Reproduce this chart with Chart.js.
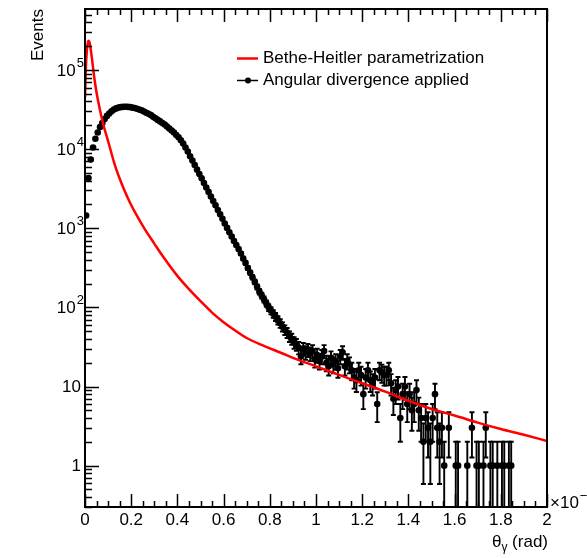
<!DOCTYPE html>
<html>
<head>
<meta charset="utf-8">
<script src="https://cdn.jsdelivr.net/npm/chart.js@4.4.1/dist/chart.umd.min.js"></script>
<style>
  html, body { margin: 0; padding: 0; background: #fff; }
  canvas { display: block; }
</style>
</head>
<body>
<canvas id="plot" width="587" height="558"></canvas>
<script>
// histogram: theta_gamma bins of 0.01 (x 10^-3 rad), first bin starts at 0
const binWidth = 0.01;
const binStart = 0;
const counts = [
  1450, 4300, 7400, 10500, 13500, 16200, 19000, 21400, 24000, 26300,
  28200, 30000, 31600, 32700, 33500, 33900, 34200, 34300, 34200, 33900,
  33500, 33100, 32400, 31600, 30900, 29900, 28800, 27900, 26900, 25700,
  24500, 23400, 22400, 21400, 20400, 19300, 18200, 17200, 16200, 15100,
  14100, 12900, 11750, 10500, 9330, 8130, 7160, 6310, 5500, 4840,
  4270, 3720, 3270, 2880, 2510, 2210, 1950, 1700, 1500, 1320,
  1150, 1010, 890, 785, 690, 615, 545, 480, 415, 365,
  315, 275, 240, 210, 182, 158, 141, 126, 112, 100,
  91, 83, 76, 69, 63, 57, 52, 48, 43, 40,
  36, 34, 31, 24, 30, 27, 29, 26, 28, 22,
  25, 21, 24, 28, 20, 18, 23, 19, 21, 17,
  24, 27, 18, 21, 19, 16, 13, 12, 16, 14,
  8, 13, 16, 12, 11, 13, 6, 16, 15, 14,
  14, 16, 11, 7, 9, 10, 4, 8, 10, 6,
  8, 5, 6, 9, 5, 4, 2, 4, 3, 2,
  4, 8, 3, 2, 3, 1, null, 3, null, null,
  1, 1, null, null, null, 1, null, 3, null, 1,
  1, null, 1, 3, null, 1, 1, null, 1, null,
  1, 1, null, 1, 1
];

// Bethe-Heitler parametrization (red curve)
const bhTheta = [0, 0.004, 0.008, 0.012, 0.016, 0.02, 0.025, 0.03, 0.036, 0.043,
  0.05, 0.058, 0.065, 0.075, 0.085, 0.094, 0.105, 0.121, 0.135, 0.152,
  0.17, 0.195, 0.224, 0.26, 0.3, 0.34, 0.4, 0.45, 0.5, 0.55,
  0.6, 0.65, 0.7, 0.77, 0.85, 0.9, 1.0, 1.1, 1.2, 1.3,
  1.4, 1.5, 1.6, 1.7, 1.8, 1.9, 2.0];
const bhValue = [45000, 110000, 175000, 220000, 235000, 222000, 180000, 140000, 100000, 70000,
  52000, 39000, 31000, 23000, 17800, 14500, 11200, 7600, 5600, 4100,
  3050, 2100, 1450, 960, 640, 430, 250, 170, 120, 86,
  65, 51, 41, 33, 26.5, 23, 18, 14, 11, 8.6,
  6.6, 5.2, 4.3, 3.5, 2.9, 2.45, 2.05];

const xTickLabels = ['0', '0.2', '0.4', '0.6', '0.8', '1', '1.2', '1.4', '1.6', '1.8', '2'];
const yDecades = [0, 1, 2, 3, 4, 5];

const legendLabels = ['Bethe-Heitler parametrization', 'Angular divergence applied'];
const FONT = "'Liberation Sans', Arial, Helvetica, sans-serif";

let histPoints = [];
counts.forEach((n, i) => {
  if (n != null) histPoints.push({ x: binStart + (i + 0.5) * binWidth, y: n });
});
let bhPoints = bhTheta.map((t, i) => ({ x: t, y: bhValue[i] }));

// error bars, frame, ROOT-like ticks and labels
const rootAxes = {
  id: 'rootAxes',
  beforeDatasetsDraw(chart) {
    const ctx = chart.ctx;
    const area = chart.chartArea;
    const xs = chart.scales.x, ys = chart.scales.y;
    ctx.save();
    ctx.beginPath();
    ctx.rect(area.left, area.top, area.right - area.left, area.bottom - area.top);
    ctx.clip();
    ctx.strokeStyle = '#000';
    ctx.lineWidth = 1.9;
    histPoints.forEach(p => {
      const err = Math.sqrt(p.y);
      const px = xs.getPixelForValue(p.x);
      const yTop = ys.getPixelForValue(p.y + err);
      const lowOk = p.y - err > 0;
      const yBot = lowOk ? ys.getPixelForValue(p.y - err) : area.bottom + 10;
      ctx.beginPath();
      ctx.moveTo(px, yTop);
      ctx.lineTo(px, yBot);
      ctx.moveTo(px - 2.5, yTop);
      ctx.lineTo(px + 2.5, yTop);
      if (lowOk) {
        ctx.moveTo(px - 2.5, yBot);
        ctx.lineTo(px + 2.5, yBot);
      }
      ctx.stroke();
    });
    ctx.restore();
  },
  afterDraw(chart) {
    const ctx = chart.ctx;
    const a = chart.chartArea;
    const xs = chart.scales.x, ys = chart.scales.y;
    ctx.save();
    ctx.strokeStyle = '#000';
    ctx.fillStyle = '#000';

    // x ticks (bottom and top, inside)
    ctx.lineWidth = 1.5;
    ctx.beginPath();
    for (let i = 0; i <= 40; i++) {
      const v = i * 0.05;
      const px = Math.round(xs.getPixelForValue(v)) + 0.5;
      const len = (i % 4 === 0) ? 13 : 6;
      ctx.moveTo(px, a.bottom);
      ctx.lineTo(px, a.bottom - len);
      ctx.moveTo(px, a.top);
      ctx.lineTo(px, a.top + len);
    }
    // y ticks (left, inside)
    for (let k = -1; k <= 5; k++) {
      for (let m = 1; m <= 9; m++) {
        const v = m * Math.pow(10, k);
        if (v < ys.min || v > ys.max) continue;
        const py = Math.round(ys.getPixelForValue(v)) + 0.5;
        const len = m === 1 ? 14 : 7;
        ctx.moveTo(a.left, py);
        ctx.lineTo(a.left + len, py);
      }
    }
    ctx.stroke();

    // frame
    ctx.lineWidth = 2;
    ctx.strokeRect(a.left, a.top, a.right - a.left, a.bottom - a.top);

    // x tick labels
    ctx.font = '17px ' + FONT;
    ctx.textAlign = 'center';
    ctx.textBaseline = 'top';
    xTickLabels.forEach(lbl => {
      ctx.fillText(lbl, xs.getPixelForValue(parseFloat(lbl)), a.bottom + 5);
    });

    // y tick labels
    ctx.textBaseline = 'middle';
    yDecades.forEach(k => {
      const py = ys.getPixelForValue(Math.pow(10, k));
      if (k === 0 || k === 1) {
        ctx.textAlign = 'right';
        ctx.font = '17px ' + FONT;
        ctx.fillText(k === 0 ? '1' : '10', a.left - 4, py + 1);
      } else {
        ctx.font = '13px ' + FONT;
        ctx.textAlign = 'right';
        ctx.fillText(String(k), a.left - 1, py - 7);
        const ew = ctx.measureText(String(k)).width;
        ctx.font = '17px ' + FONT;
        ctx.fillText('10', a.left - 1 - ew - 1, py + 1);
      }
    });

    // x10^-3 multiplier
    ctx.textAlign = 'left';
    ctx.font = '17px ' + FONT;
    ctx.fillText('\u00d710', a.right + 3, a.bottom - 4);
    const mw = ctx.measureText('\u00d710').width;
    ctx.font = '13px ' + FONT;
    ctx.fillText('\u22123', a.right + 3 + mw + 1, a.bottom - 11);

    // axis titles
    ctx.font = '17px ' + FONT;
    ctx.textAlign = 'right';
    const tailW = ctx.measureText(' (rad)').width;
    ctx.fillText(' (rad)', a.right + 1, 542);
    ctx.font = '12px ' + FONT;
    const gw = ctx.measureText('\u03b3').width;
    ctx.fillText('\u03b3', a.right + 1 - tailW, 548);
    ctx.font = '17px ' + FONT;
    ctx.fillText('\u03b8', a.right + 1 - tailW - gw, 542);

    ctx.save();
    ctx.translate(38, a.top);
    ctx.rotate(-Math.PI / 2);
    ctx.textAlign = 'right';
    ctx.fillText('Events', 0, 0);
    ctx.restore();

    // legend
    ctx.textAlign = 'left';
    ctx.font = '17px ' + FONT;
    ctx.strokeStyle = '#ff0000';
    ctx.lineWidth = 2.5;
    ctx.beginPath();
    ctx.moveTo(237, 58.5);
    ctx.lineTo(258, 58.5);
    ctx.stroke();
    ctx.fillText(legendLabels[0], 263, 58);

    ctx.strokeStyle = '#000';
    ctx.lineWidth = 1.5;
    ctx.beginPath();
    ctx.moveTo(237, 80.5);
    ctx.lineTo(258, 80.5);
    ctx.stroke();
    ctx.beginPath();
    ctx.arc(248, 80.5, 3, 0, Math.PI * 2);
    ctx.fill();
    ctx.fillText(legendLabels[1], 263, 80);

    ctx.restore();
  }
};

new Chart(document.getElementById('plot'), {
  type: 'scatter',
  data: {
    datasets: [
      {
        label: legendLabels[0],
        data: bhPoints,
        showLine: true,
        borderColor: '#ff0000',
        borderWidth: 2.5,
        pointRadius: 0,
        cubicInterpolationMode: 'monotone',
        fill: false
      },
      {
        label: legendLabels[1],
        data: histPoints,
        showLine: false,
        pointRadius: 3.3,
        pointBorderWidth: 0,
        backgroundColor: '#000',
        borderColor: '#000'
      }
    ]
  },
  options: {
    responsive: false,
    animation: false,
    devicePixelRatio: 1,
    layout: { padding: { left: 85, right: 40, top: 9, bottom: 51 } },
    scales: {
      x: { type: 'linear', min: 0, max: 2, display: false },
      y: { type: 'logarithmic', min: 0.3, max: 590000, display: false }
    },
    plugins: {
      legend: { display: false },
      tooltip: { enabled: false }
    }
  },
  plugins: [rootAxes]
});
</script>
</body>
</html>
